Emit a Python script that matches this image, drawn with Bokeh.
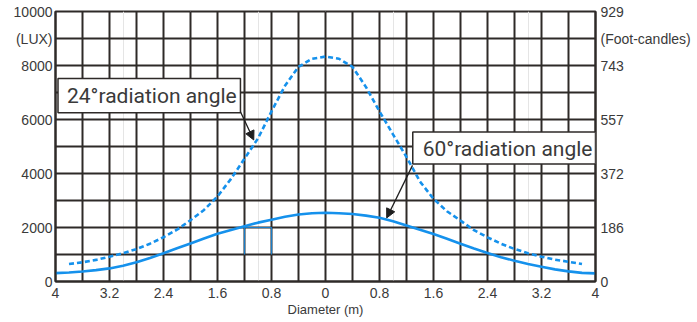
from bokeh.plotting import figure
from bokeh.models import (Range1d, LinearAxis, FixedTicker, Grid, BoxAnnotation,
                          Label, Arrow, NormalHead)
from bokeh.embed import file_html
from bokeh.resources import INLINE

# ---- data ----
x_solid = [-4.0, -3.8, -3.6, -3.4, -3.2, -3.0, -2.8, -2.6, -2.4, -2.2, -2.0,
           -1.8, -1.6, -1.4, -1.2, -1.0, -0.8, -0.6, -0.4, -0.2, 0.0,
           0.2, 0.4, 0.6, 0.8, 1.0, 1.2, 1.4, 1.6, 1.8, 2.0,
           2.2, 2.4, 2.6, 2.8, 3.0, 3.2, 3.4, 3.6, 3.8, 4.0]
lux_60 = [310, 335, 370, 420, 485, 580, 710, 870, 1045, 1230, 1410,
          1590, 1765, 1910, 2050, 2180, 2290, 2400, 2480, 2530, 2545,
          2530, 2500, 2440, 2360, 2230, 2070, 1920, 1760, 1580, 1395,
          1220, 1055, 900, 770, 650, 545, 450, 375, 320, 300]

x_dash = [-3.8, -3.6, -3.4, -3.2, -3.0, -2.8, -2.6, -2.4, -2.2, -2.0,
          -1.8, -1.6, -1.4, -1.2, -1.0, -0.8, -0.6, -0.4, -0.2, 0.0,
          0.2, 0.4, 0.6, 0.8, 1.0, 1.2, 1.4, 1.6, 1.8, 2.0,
          2.2, 2.4, 2.6, 2.8, 3.0, 3.2, 3.4, 3.6, 3.8]
lux_24 = [650, 710, 800, 920, 1050, 1200, 1400, 1640, 1920, 2270,
          2650, 3150, 3800, 4550, 5300, 6300, 7250, 7950, 8250, 8330,
          8250, 7950, 7200, 6300, 5450, 4610, 3700, 3063, 2600, 2256,
          1900, 1636, 1400, 1204, 1050, 918, 810, 732, 647]

# odd blue cell edges visible in the reference
cell_x = [[-1.2, -1.2, -0.8, -0.8]]
cell_y = [[1000, 2000, 2000, 1000]]

x_ticks = [-4, -3.2, -2.4, -1.6, -0.8, 0, 0.8, 1.6, 2.4, 3.2, 4]
x_tick_labels = ["4", "3.2", "2.4", "1.6", "0.8", "0", "0.8", "1.6", "2.4", "3.2", "4"]
y_ticks = [0, 2000, 4000, 6000, 8000, 9000, 10000]
lux_labels = ["0", "2000", "4000", "6000", "8000", "(LUX)", "10000"]
fc_labels = ["0", "186", "372", "557", "743", "(Foot-candles)", "929"]

BLUE = "#1591ec"
INK = "#2e2a28"
TXT = "#3a3a3a"
FONT = "Liberation Sans"

p = figure(width=697, height=322, x_range=Range1d(-4, 4), y_range=Range1d(0, 10000),
           output_backend="svg", toolbar_location=None,
           x_axis_location=None, y_axis_location=None,
           min_border_left=55, min_border_right=102, min_border_top=11, min_border_bottom=41)
p.background_fill_color = "white"
p.border_fill_color = "white"
p.outline_line_color = INK
p.outline_line_width = 2


def style_axis(ax, standoff):
    ax.major_tick_line_color = None
    ax.minor_tick_line_color = None
    ax.major_tick_out = 0
    ax.major_tick_in = 0
    ax.minor_tick_out = 0
    ax.minor_tick_in = 0
    ax.axis_line_color = INK
    ax.axis_line_width = 2
    ax.major_label_text_font = FONT
    ax.major_label_text_font_size = "14px"
    ax.major_label_text_color = TXT
    ax.major_label_standoff = standoff


left = LinearAxis(ticker=FixedTicker(ticks=y_ticks),
                  major_label_overrides=dict(zip(y_ticks, lux_labels)))
style_axis(left, 3)
left.major_label_text_baseline = "hanging"
p.add_layout(left, "left")

right = LinearAxis(ticker=FixedTicker(ticks=y_ticks),
                   major_label_overrides=dict(zip(y_ticks, fc_labels)))
style_axis(right, 5)
p.add_layout(right, "right")

below = LinearAxis(ticker=FixedTicker(ticks=x_ticks),
                   major_label_overrides=dict(zip(x_ticks, x_tick_labels)),
                   axis_label="Diameter (m)")
style_axis(below, 6)
below.axis_label_text_font = FONT
below.axis_label_text_font_size = "13px"
below.axis_label_text_font_style = "normal"
below.axis_label_text_color = TXT
below.axis_label_standoff = 1
p.add_layout(below, "below")

x_grid = [round(-4 + 0.4 * i, 1) for i in range(21)]
y_grid = [1000 * i for i in range(11)]
p.add_layout(Grid(dimension=0, ticker=FixedTicker(ticks=x_grid),
                  grid_line_color=INK, grid_line_width=2))
p.add_layout(Grid(dimension=1, ticker=FixedTicker(ticks=y_grid),
                  grid_line_color=INK, grid_line_width=2))

p.multi_line(cell_x, cell_y, line_color=BLUE, line_width=1.2, line_alpha=0.8)
p.line(x_solid, lux_60, line_color=BLUE, line_width=2.6)
p.line(x_dash, lux_24, line_color=BLUE, line_width=2.6, line_dash="5 3")

# callouts
p.add_layout(BoxAnnotation(left=-3.963, right=-1.26, top=7515, bottom=6248,
                           fill_color="white", fill_alpha=1.0,
                           line_color=INK, line_width=1.5, line_alpha=1.0))
p.add_layout(Label(x=-3.83, y=6876, text="24°radiation angle", text_font="Roboto",
                   text_font_size="21px", text_baseline="middle", text_align="left",
                   text_color=TXT))
p.add_layout(Arrow(end=NormalHead(size=9, fill_color="#1e1e1e", line_color="#1e1e1e"),
                   x_start=-1.26, y_start=6285, x_end=-1.063, y_end=5242,
                   line_color="#1e1e1e", line_width=1.3))

p.add_layout(BoxAnnotation(left=1.293, right=4.0, top=5540, bottom=4348,
                           fill_color="white", fill_alpha=1.0,
                           line_color=INK, line_width=1.5, line_alpha=1.0))
p.add_layout(Label(x=1.44, y=4920, text="60°radiation angle", text_font="Roboto",
                   text_font_size="21px", text_baseline="middle", text_align="left",
                   text_color=TXT))
p.add_layout(Arrow(end=NormalHead(size=9, fill_color="#1e1e1e", line_color="#1e1e1e"),
                   x_start=1.289, y_start=4300, x_end=0.907, y_end=2355,
                   line_color="#1e1e1e", line_width=1.3))

open("out.html", "w").write(file_html(p, INLINE))
